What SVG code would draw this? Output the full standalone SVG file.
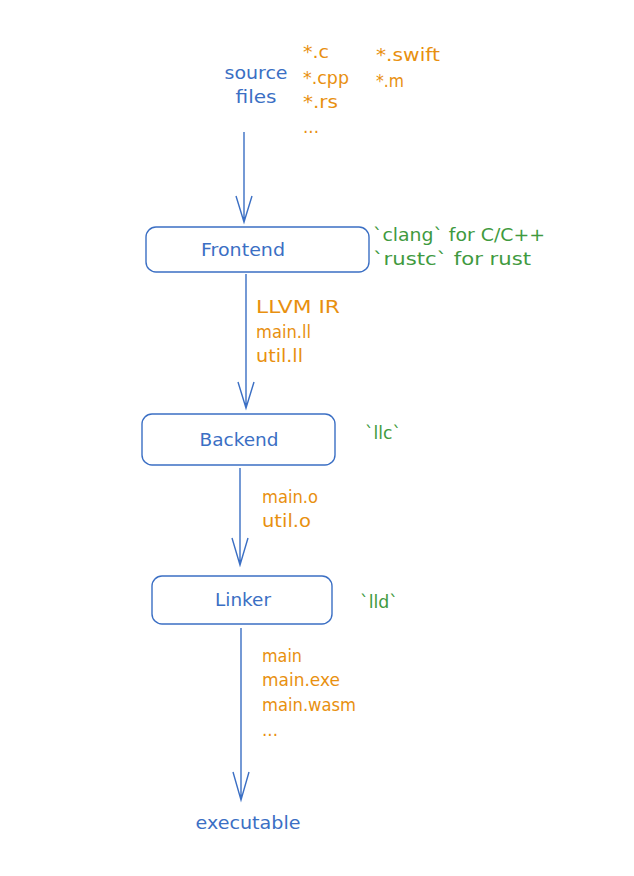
<svg xmlns="http://www.w3.org/2000/svg" width="634" height="876" viewBox="0 0 634 876">
<style>
.box{fill:#ffffff;stroke:#3b6fc4;stroke-width:1.4}
text{font-family:"DejaVu Sans","Liberation Sans",sans-serif}
.lbl{font-size:18px;fill:#3b6fc4;text-anchor:middle}
.or{font-size:17px;fill:#e8900f}
.gr{font-size:18px;fill:#3f9a40}
.ln{stroke:#3b6fc4;stroke-width:1.4;fill:none}
</style>
<rect width="634" height="876" fill="#ffffff"/>
<g id="source">
<text class="lbl" x="256" y="79" textLength="63" lengthAdjust="spacingAndGlyphs">source</text>
<text class="lbl" x="256" y="103" textLength="41" lengthAdjust="spacingAndGlyphs">files</text>
</g>
<g id="source-exts">
<text class="or" x="303" y="58" textLength="26" lengthAdjust="spacingAndGlyphs">*.c</text>
<text class="or" x="303" y="84" textLength="46" lengthAdjust="spacingAndGlyphs">*.cpp</text>
<text class="or" x="303" y="108" textLength="35" lengthAdjust="spacingAndGlyphs">*.rs</text>
<text class="or" x="303" y="133" textLength="16" lengthAdjust="spacingAndGlyphs">...</text>
<text class="or" x="376" y="61" textLength="64" lengthAdjust="spacingAndGlyphs">*.swift</text>
<text class="or" x="376" y="87" textLength="28" lengthAdjust="spacingAndGlyphs">*.m</text>
</g>
<g id="frontend">
<rect class="box" x="146" y="227" width="223" height="45" rx="10"/>
<text class="lbl" x="243" y="256" textLength="84" lengthAdjust="spacingAndGlyphs">Frontend</text>
</g>
<g id="frontend-note">
<text class="gr" x="373" y="241" textLength="172" lengthAdjust="spacingAndGlyphs">`clang` for C/C++</text>
<text class="gr" x="373" y="265" textLength="158" lengthAdjust="spacingAndGlyphs">`rustc` for rust</text>
</g>
<g id="ir-files">
<text class="or" x="256" y="313" textLength="84" lengthAdjust="spacingAndGlyphs">LLVM IR</text>
<text class="or" x="256" y="338" textLength="55" lengthAdjust="spacingAndGlyphs">main.ll</text>
<text class="or" x="256" y="362" textLength="47" lengthAdjust="spacingAndGlyphs">util.ll</text>
</g>
<g id="backend">
<rect class="box" x="142" y="414" width="193" height="51" rx="10"/>
<text class="lbl" x="239" y="446" textLength="79" lengthAdjust="spacingAndGlyphs">Backend</text>
</g>
<g id="backend-note">
<text class="gr" x="365" y="439" textLength="36" lengthAdjust="spacingAndGlyphs">`llc`</text>
</g>
<g id="obj-files">
<text class="or" x="262" y="503" textLength="56" lengthAdjust="spacingAndGlyphs">main.o</text>
<text class="or" x="262" y="527" textLength="49" lengthAdjust="spacingAndGlyphs">util.o</text>
</g>
<g id="linker">
<rect class="box" x="152" y="576" width="180" height="48" rx="10"/>
<text class="lbl" x="243" y="606" textLength="56" lengthAdjust="spacingAndGlyphs">Linker</text>
</g>
<g id="linker-note">
<text class="gr" x="360" y="608" textLength="38" lengthAdjust="spacingAndGlyphs">`lld`</text>
</g>
<g id="out-files">
<text class="or" x="262" y="662" textLength="40" lengthAdjust="spacingAndGlyphs">main</text>
<text class="or" x="262" y="686" textLength="78" lengthAdjust="spacingAndGlyphs">main.exe</text>
<text class="or" x="262" y="711" textLength="94" lengthAdjust="spacingAndGlyphs">main.wasm</text>
<text class="or" x="262" y="736" textLength="16" lengthAdjust="spacingAndGlyphs">...</text>
</g>
<g id="executable">
<text class="lbl" x="248" y="829" textLength="105" lengthAdjust="spacingAndGlyphs">executable</text>
</g>
<g id="connectors">
<path class="ln" d="M244 132 L244 222 M236 196 L244 222 L252 196"/>
<path class="ln" d="M246 274 L246 408 M238 382 L246 408 L254 382"/>
<path class="ln" d="M240 468 L240 565 M232 538 L240 565 L248 538"/>
<path class="ln" d="M241 628 L241 800 M233 772 L241 800 L249 772"/>
</g>
</svg>
